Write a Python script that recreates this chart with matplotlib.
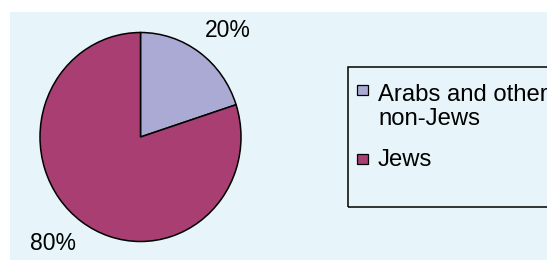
import numpy as np
import matplotlib.pyplot as plt
from matplotlib.patches import Rectangle

# data
groups = ['Arabs and other\nnon-Jews', 'Jews']
shares = [20, 80]
colors = ['#AAAAD4', '#A93E73']

W, H = 547, 260
bg = '#E7F5FA'
plt.rcParams['font.family'] = ['Liberation Sans', 'DejaVu Sans']

fig = plt.figure(figsize=(W / 100, H / 100), dpi=100)

# light blue chart area
fig.patches.append(Rectangle((10 / W, 0), 1, (H - 12) / H, transform=fig.transFigure,
                             facecolor=bg, edgecolor='none', zorder=-5))

# pie (slightly taller than wide, like the original)
ax = fig.add_axes([40 / W, 18.5 / H, 201 / W, 209 / H])
ax.set_zorder(3)
wedges, texts, autotexts = ax.pie(
    shares, colors=colors, startangle=90, counterclock=False,
    autopct='%d%%', pctdistance=1.34,
    wedgeprops=dict(edgecolor='black', linewidth=1.1, clip_on=False),
    textprops=dict(fontsize=16.5))
ax.set_aspect('auto')
ax.set_xlim(-1, 1)
ax.set_ylim(-1, 1)
ax.axis('off')

# nudge the percent labels a bit clockwise
for t in autotexts:
    x, y = t.get_position()
    r = np.hypot(x, y)
    a = np.arctan2(y, x) - np.radians(4.5)
    t.set_position((r * np.cos(a), r * np.sin(a)))

# legend box
px = lambda x, y: (x / W, (H - y) / H)
fig.patches.append(Rectangle(px(348, 207), (W + 10 - 348) / W, 140 / H,
                             transform=fig.transFigure, facecolor='none',
                             edgecolor='black', linewidth=1.1))
base = 97
for lab, c in zip(groups, colors):
    nl = lab.count('\n')
    fig.patches.append(Rectangle(px(357, base - 2), 11 / W, 10.5 / H,
                                 transform=fig.transFigure, facecolor=c,
                                 edgecolor='black', linewidth=0.9))
    # baseline alignment uses the last line of the label
    fig.text(*px(378, base + 28 * nl), lab, fontsize=17.2, va='baseline', ha='left',
             linespacing=1.13)
    base += 28 * nl + 41

fig.savefig('out.png', dpi=100, facecolor='white')
